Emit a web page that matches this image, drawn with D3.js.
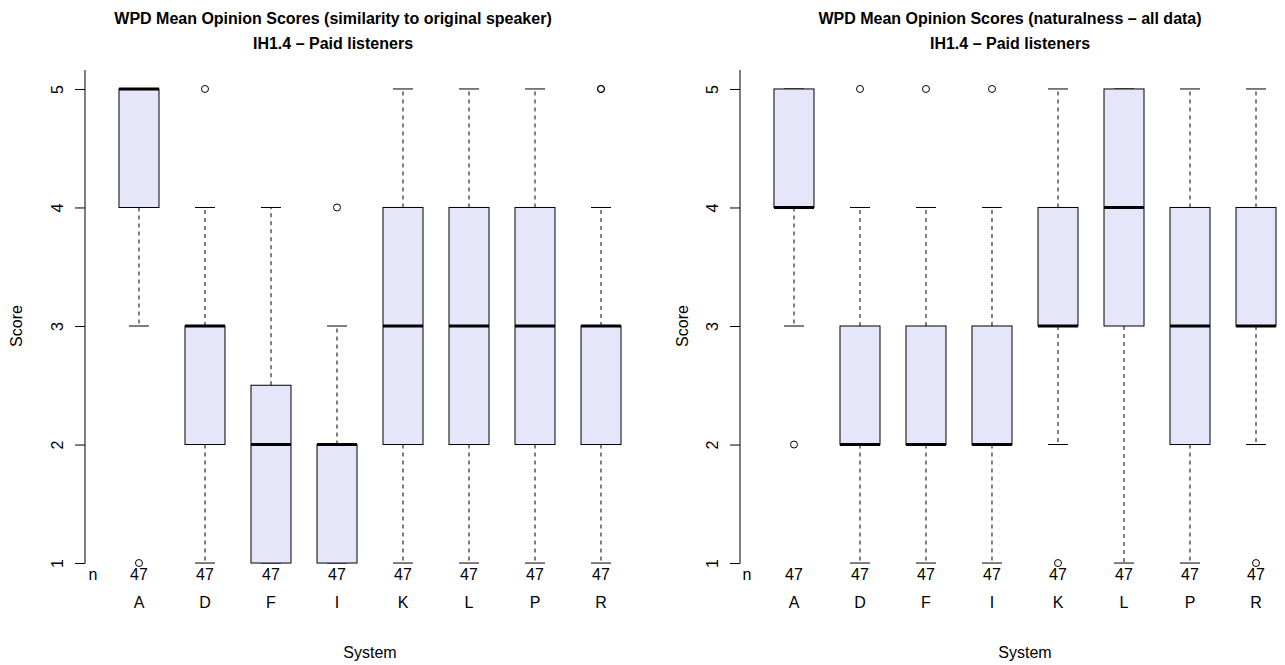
<!DOCTYPE html>
<html>
<head>
<meta charset="utf-8">
<script src="https://cdn.jsdelivr.net/npm/d3@7"></script>
<style>
  html, body { margin: 0; padding: 0; background: #fff; }
  svg { display: block; font-family: "Liberation Sans", Arial, Helvetica, sans-serif; }
</style>
</head>
<body>
<script>
// Systems under test and listener counts
const systems = ["A", "D", "F", "I", "K", "L", "P", "R"];
const counts = [47, 47, 47, 47, 47, 47, 47, 47];
const yTicks = [1, 2, 3, 4, 5];

// Similarity to original speaker: five-number summaries per system
const simLower  = [3, 1, 1,   1, 1, 1, 1, 1];
const simQ1     = [4, 2, 1,   1, 2, 2, 2, 2];
const simMedian = [5, 3, 2,   2, 3, 3, 3, 3];
const simQ3     = [5, 3, 2.5, 2, 4, 4, 4, 3];
const simUpper  = [5, 4, 4,   3, 5, 5, 5, 4];
const simOutliers = [[1], [5], [], [4], [], [], [], [5, 5]];

// Naturalness (all data): five-number summaries per system
const natLower  = [3, 1, 1, 1, 2, 1, 1, 2];
const natQ1     = [4, 2, 2, 2, 3, 3, 2, 3];
const natMedian = [4, 2, 2, 2, 3, 4, 3, 3];
const natQ3     = [5, 3, 3, 3, 4, 5, 4, 4];
const natUpper  = [5, 4, 4, 4, 5, 5, 5, 5];
const natOutliers = [[2], [5], [5], [5], [1], [], [], [1]];

const simTitle = ["WPD Mean Opinion Scores (similarity to original speaker)", "IH1.4 \u2013 Paid listeners"];
const natTitle = ["WPD Mean Opinion Scores (naturalness \u2013 all data)", "IH1.4 \u2013 Paid listeners"];

const W = 1285, H = 665;
const svg = d3.select("body").append("svg").attr("width", W).attr("height", H);
svg.append("rect").attr("width", W).attr("height", H).attr("fill", "#fff");

const panels = [
  { left: 85, right: 655, titleX: 333, scoreX: 22, nX: 93, title: simTitle,
    lower: simLower, q1: simQ1, median: simMedian, q3: simQ3, upper: simUpper, outliers: simOutliers },
  { left: 740, right: 1310, titleX: 1010, scoreX: 688, nX: 747, title: natTitle,
    lower: natLower, q1: natQ1, median: natMedian, q3: natQ3, upper: natUpper, outliers: natOutliers }
];

const y = d3.scaleLinear().domain([0.84, 5.16]).range([582, 70]);
const FS = 16;

function drawPanel(p) {
  const x = d3.scaleBand().domain(systems).range([p.left, p.right])
    .paddingInner(26 / 66).paddingOuter(0.515);
  const bw = x.bandwidth();
  const g = svg.append("g");

  // Title (two lines)
  g.append("text").attr("x", p.titleX).attr("y", 24).attr("text-anchor", "middle")
    .attr("font-weight", "bold").attr("font-size", FS).text(p.title[0]);
  g.append("text").attr("x", p.titleX).attr("y", 49).attr("text-anchor", "middle")
    .attr("font-weight", "bold").attr("font-size", FS).text(p.title[1]);

  // Y axis
  const ag = g.append("g").attr("transform", `translate(${p.left},0)`)
    .call(d3.axisLeft(y).tickValues(yTicks).tickSize(10).tickFormat(d3.format("d")));
  ag.select(".domain").remove();
  ag.attr("font-size", null).attr("font-family", null);
  ag.selectAll(".tick line").attr("stroke", "#000");
  ag.selectAll(".tick text")
    .attr("x", 0).attr("y", -22).attr("dy", null)
    .attr("transform", "rotate(-90)")
    .attr("text-anchor", "middle")
    .attr("font-size", FS).attr("fill", "#000");
  ag.append("line").attr("x1", 0).attr("x2", 0)
    .attr("y1", y.range()[1]).attr("y2", y(yTicks[0]) + 0.5)
    .attr("stroke", "#000");

  // Y axis title
  g.append("text")
    .attr("transform", `translate(${p.scoreX},${(y.range()[0] + y.range()[1]) / 2}) rotate(-90)`)
    .attr("text-anchor", "middle").attr("font-size", FS).text("Score");

  // X axis title
  g.append("text").attr("x", (p.left + p.right) / 2).attr("y", 658)
    .attr("text-anchor", "middle").attr("font-size", FS).text("System");

  // Counts row
  g.append("text").attr("x", p.nX).attr("y", 580).attr("text-anchor", "middle")
    .attr("font-size", FS).text("n");

  const cx = s => x(s) + bw / 2;

  const box = g.selectAll(".box").data(systems).join("g").attr("class", "box");

  // Whiskers (dashed)
  box.append("line")
    .attr("x1", s => cx(s)).attr("x2", s => cx(s))
    .attr("y1", (s, i) => y(p.q3[i])).attr("y2", (s, i) => y(p.upper[i]))
    .attr("stroke", "#000").attr("stroke-dasharray", "4,4");
  box.append("line")
    .attr("x1", s => cx(s)).attr("x2", s => cx(s))
    .attr("y1", (s, i) => y(p.q1[i])).attr("y2", (s, i) => y(p.lower[i]))
    .attr("stroke", "#000").attr("stroke-dasharray", "4,4");

  // Staples
  box.append("line")
    .attr("x1", s => cx(s) - bw / 4).attr("x2", s => cx(s) + bw / 4)
    .attr("y1", (s, i) => y(p.upper[i])).attr("y2", (s, i) => y(p.upper[i]))
    .attr("stroke", "#000");
  box.append("line")
    .attr("x1", s => cx(s) - bw / 4).attr("x2", s => cx(s) + bw / 4)
    .attr("y1", (s, i) => y(p.lower[i])).attr("y2", (s, i) => y(p.lower[i]))
    .attr("stroke", "#000");

  // Boxes
  box.append("rect")
    .attr("x", s => x(s)).attr("width", bw)
    .attr("y", (s, i) => y(p.q3[i]))
    .attr("height", (s, i) => y(p.q1[i]) - y(p.q3[i]))
    .attr("fill", "#E6E6FA").attr("stroke", "#000");

  // Medians
  box.append("line")
    .attr("x1", s => x(s)).attr("x2", s => x(s) + bw)
    .attr("y1", (s, i) => y(p.median[i])).attr("y2", (s, i) => y(p.median[i]))
    .attr("stroke", "#000").attr("stroke-width", 3);

  // Outliers
  box.each(function (s, i) {
    d3.select(this).selectAll("circle").data(p.outliers[i]).join("circle")
      .attr("cx", cx(s)).attr("cy", v => y(v)).attr("r", 3.5)
      .attr("fill", "none").attr("stroke", "#000");
  });

  // Counts under each box
  box.append("text")
    .attr("x", s => cx(s)).attr("y", 580).attr("text-anchor", "middle")
    .attr("font-size", FS).text((s, i) => counts[i]);

  // Category labels
  box.append("text")
    .attr("x", s => cx(s)).attr("y", 608).attr("text-anchor", "middle")
    .attr("font-size", FS).text(s => s);
}

panels.forEach(drawPanel);
</script>
</body>
</html>
